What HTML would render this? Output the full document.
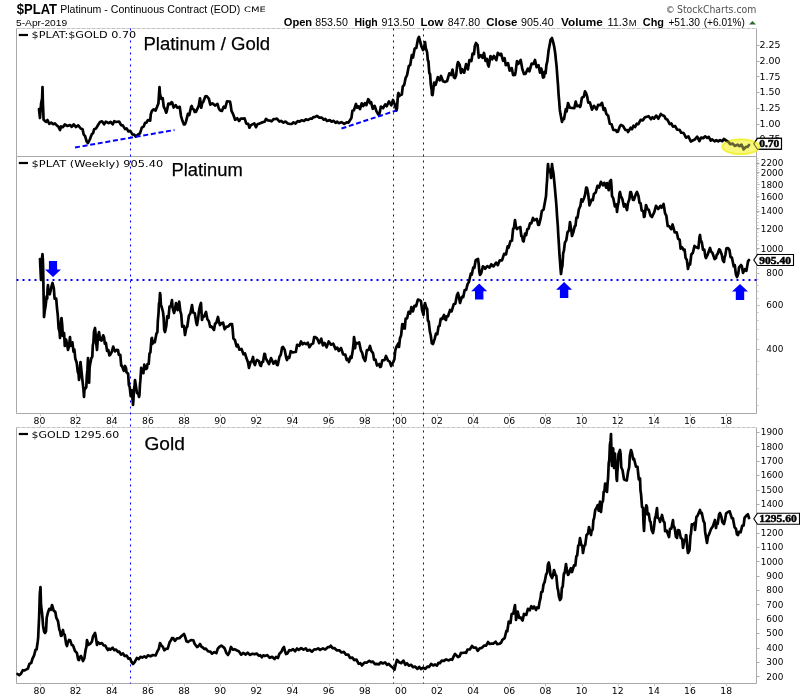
<!DOCTYPE html>
<html lang="en"><head><meta charset="utf-8"><title>$PLAT Platinum - Continuous Contract (EOD)</title>
<style>html,body{margin:0;padding:0;background:#fff}svg{display:block;will-change:transform}text{white-space:pre}</style>
</head><body>
<svg width="800" height="700" viewBox="0 0 800 700">
<rect width="800" height="700" fill="#fff"/>
<text x="16.8" y="13.6" font-family='"Liberation Sans", sans-serif' font-size="14" font-weight="bold" fill="#000" text-anchor="start" textLength="40.2" lengthAdjust="spacingAndGlyphs" >$PLAT</text>
<text x="60.2" y="13" font-family='"Liberation Sans", sans-serif' font-size="11.0" font-weight="normal" fill="#000" text-anchor="start" textLength="180" lengthAdjust="spacingAndGlyphs" >Platinum - Continuous Contract (EOD)</text>
<text x="244" y="12" font-family='"DejaVu Sans", "Liberation Sans", sans-serif' font-size="7.5" font-weight="normal" fill="#000" text-anchor="start" textLength="21.8" lengthAdjust="spacingAndGlyphs" >CME</text>
<text x="16" y="25.7" font-family='"Liberation Sans", sans-serif' font-size="9.6" font-weight="normal" fill="#000" text-anchor="start" textLength="51.2" lengthAdjust="spacingAndGlyphs" >5-Apr-2019</text>
<text x="665.8" y="13.1" font-family='"DejaVu Sans", "Liberation Sans", sans-serif' font-size="9" font-weight="normal" fill="#444" text-anchor="start" >©</text>
<text x="677" y="12.7" font-family='"DejaVu Sans", "Liberation Sans", sans-serif' font-size="10.5" font-weight="normal" fill="#505050" text-anchor="start" textLength="79.4" lengthAdjust="spacingAndGlyphs" >StockCharts.com</text>
<text x="283.75" y="25.7" font-family='"Liberation Sans", sans-serif' font-size="10.8" font-weight="bold" fill="#000" text-anchor="start" textLength="28.4" lengthAdjust="spacingAndGlyphs" >Open</text>
<text x="315.3" y="25.7" font-family='"Liberation Sans", sans-serif' font-size="10.3" font-weight="normal" fill="#000" text-anchor="start" textLength="32.5" lengthAdjust="spacingAndGlyphs" >853.50</text>
<text x="354.4" y="25.7" font-family='"Liberation Sans", sans-serif' font-size="10.8" font-weight="bold" fill="#000" text-anchor="start" textLength="23.4" lengthAdjust="spacingAndGlyphs" >High</text>
<text x="381.6" y="25.7" font-family='"Liberation Sans", sans-serif' font-size="10.3" font-weight="normal" fill="#000" text-anchor="start" textLength="32.8" lengthAdjust="spacingAndGlyphs" >913.50</text>
<text x="420.6" y="25.7" font-family='"Liberation Sans", sans-serif' font-size="10.8" font-weight="bold" fill="#000" text-anchor="start" textLength="22.8" lengthAdjust="spacingAndGlyphs" >Low</text>
<text x="447.8" y="25.7" font-family='"Liberation Sans", sans-serif' font-size="10.3" font-weight="normal" fill="#000" text-anchor="start" textLength="32.2" lengthAdjust="spacingAndGlyphs" >847.80</text>
<text x="486.25" y="25.7" font-family='"Liberation Sans", sans-serif' font-size="10.8" font-weight="bold" fill="#000" text-anchor="start" textLength="31.2" lengthAdjust="spacingAndGlyphs" >Close</text>
<text x="521" y="25.7" font-family='"Liberation Sans", sans-serif' font-size="10.3" font-weight="normal" fill="#000" text-anchor="start" textLength="32.8" lengthAdjust="spacingAndGlyphs" >905.40</text>
<text x="561" y="25.7" font-family='"Liberation Sans", sans-serif' font-size="10.8" font-weight="bold" fill="#000" text-anchor="start" textLength="41.8" lengthAdjust="spacingAndGlyphs" >Volume</text>
<text x="607.5" y="25.7" font-family='"Liberation Sans", sans-serif' font-size="10.3" font-weight="normal" fill="#000" text-anchor="start" textLength="20.5" lengthAdjust="spacingAndGlyphs" >11.3</text>
<text x="642.8" y="25.7" font-family='"Liberation Sans", sans-serif' font-size="10.8" font-weight="bold" fill="#000" text-anchor="start" textLength="21.2" lengthAdjust="spacingAndGlyphs" >Chg</text>
<text x="668.4" y="25.7" font-family='"Liberation Sans", sans-serif' font-size="10.3" font-weight="normal" fill="#000" text-anchor="start" textLength="31.6" lengthAdjust="spacingAndGlyphs" >+51.30</text>
<text x="703.75" y="25.7" font-family='"Liberation Sans", sans-serif' font-size="10.3" font-weight="normal" fill="#000" text-anchor="start" textLength="41.2" lengthAdjust="spacingAndGlyphs" >(+6.01%)</text>
<text x="628.8" y="25.7" font-family='"Liberation Sans", sans-serif' font-size="8.4" font-weight="normal" fill="#000" text-anchor="start" textLength="7.8" lengthAdjust="spacingAndGlyphs" >M</text>
<polygon points="749,24.5 756,24.5 752.5,21" fill="#2b6b2b"/>
<path d="M16.5,28.5 V156.5 H756.5 V28.5" fill="none" stroke="#a9a9a9" stroke-width="1"/>
<path d="M16.5,28.5 H756.5" fill="none" stroke="#a9a9a9" stroke-width="1" stroke-dasharray="4 1" stroke-opacity="0.7"/>
<path d="M16.5,156.5 V413.5 H756.5 V156.5" fill="none" stroke="#a9a9a9" stroke-width="1"/>
<path d="M16.5,427.5 V683.5 H756.5 V427.5" fill="none" stroke="#a9a9a9" stroke-width="1"/>
<path d="M16.5,427.5 H756.5" fill="none" stroke="#a9a9a9" stroke-width="1" stroke-dasharray="4 1" stroke-opacity="0.7"/>
<text x="39.5" y="423.5" font-family='"DejaVu Sans", "Liberation Sans", sans-serif' font-size="8.6" font-weight="normal" fill="#000" text-anchor="middle" textLength="11.8" lengthAdjust="spacingAndGlyphs" >80</text>
<path d="M40.5,413.5 v2.5" stroke="#c4c4c4" stroke-width="1"/>
<text x="75.6" y="423.5" font-family='"DejaVu Sans", "Liberation Sans", sans-serif' font-size="8.6" font-weight="normal" fill="#000" text-anchor="middle" textLength="11.8" lengthAdjust="spacingAndGlyphs" >82</text>
<path d="M76.5,413.5 v2.5" stroke="#c4c4c4" stroke-width="1"/>
<text x="111.8" y="423.5" font-family='"DejaVu Sans", "Liberation Sans", sans-serif' font-size="8.6" font-weight="normal" fill="#000" text-anchor="middle" textLength="11.8" lengthAdjust="spacingAndGlyphs" >84</text>
<path d="M112.5,413.5 v2.5" stroke="#c4c4c4" stroke-width="1"/>
<text x="147.9" y="423.5" font-family='"DejaVu Sans", "Liberation Sans", sans-serif' font-size="8.6" font-weight="normal" fill="#000" text-anchor="middle" textLength="11.8" lengthAdjust="spacingAndGlyphs" >86</text>
<path d="M148.5,413.5 v2.5" stroke="#c4c4c4" stroke-width="1"/>
<text x="184.1" y="423.5" font-family='"DejaVu Sans", "Liberation Sans", sans-serif' font-size="8.6" font-weight="normal" fill="#000" text-anchor="middle" textLength="11.8" lengthAdjust="spacingAndGlyphs" >88</text>
<path d="M184.5,413.5 v2.5" stroke="#c4c4c4" stroke-width="1"/>
<text x="220.2" y="423.5" font-family='"DejaVu Sans", "Liberation Sans", sans-serif' font-size="8.6" font-weight="normal" fill="#000" text-anchor="middle" textLength="11.8" lengthAdjust="spacingAndGlyphs" >90</text>
<path d="M220.5,413.5 v2.5" stroke="#c4c4c4" stroke-width="1"/>
<text x="256.3" y="423.5" font-family='"DejaVu Sans", "Liberation Sans", sans-serif' font-size="8.6" font-weight="normal" fill="#000" text-anchor="middle" textLength="11.8" lengthAdjust="spacingAndGlyphs" >92</text>
<path d="M256.5,413.5 v2.5" stroke="#c4c4c4" stroke-width="1"/>
<text x="292.5" y="423.5" font-family='"DejaVu Sans", "Liberation Sans", sans-serif' font-size="8.6" font-weight="normal" fill="#000" text-anchor="middle" textLength="11.8" lengthAdjust="spacingAndGlyphs" >94</text>
<path d="M292.5,413.5 v2.5" stroke="#c4c4c4" stroke-width="1"/>
<text x="328.6" y="423.5" font-family='"DejaVu Sans", "Liberation Sans", sans-serif' font-size="8.6" font-weight="normal" fill="#000" text-anchor="middle" textLength="11.8" lengthAdjust="spacingAndGlyphs" >96</text>
<path d="M329.5,413.5 v2.5" stroke="#c4c4c4" stroke-width="1"/>
<text x="364.8" y="423.5" font-family='"DejaVu Sans", "Liberation Sans", sans-serif' font-size="8.6" font-weight="normal" fill="#000" text-anchor="middle" textLength="11.8" lengthAdjust="spacingAndGlyphs" >98</text>
<path d="M365.5,413.5 v2.5" stroke="#c4c4c4" stroke-width="1"/>
<text x="400.9" y="423.5" font-family='"DejaVu Sans", "Liberation Sans", sans-serif' font-size="8.6" font-weight="normal" fill="#000" text-anchor="middle" textLength="11.8" lengthAdjust="spacingAndGlyphs" >00</text>
<path d="M401.5,413.5 v2.5" stroke="#c4c4c4" stroke-width="1"/>
<text x="437.0" y="423.5" font-family='"DejaVu Sans", "Liberation Sans", sans-serif' font-size="8.6" font-weight="normal" fill="#000" text-anchor="middle" textLength="11.8" lengthAdjust="spacingAndGlyphs" >02</text>
<path d="M437.5,413.5 v2.5" stroke="#c4c4c4" stroke-width="1"/>
<text x="473.2" y="423.5" font-family='"DejaVu Sans", "Liberation Sans", sans-serif' font-size="8.6" font-weight="normal" fill="#000" text-anchor="middle" textLength="11.8" lengthAdjust="spacingAndGlyphs" >04</text>
<path d="M473.5,413.5 v2.5" stroke="#c4c4c4" stroke-width="1"/>
<text x="509.3" y="423.5" font-family='"DejaVu Sans", "Liberation Sans", sans-serif' font-size="8.6" font-weight="normal" fill="#000" text-anchor="middle" textLength="11.8" lengthAdjust="spacingAndGlyphs" >06</text>
<path d="M509.5,413.5 v2.5" stroke="#c4c4c4" stroke-width="1"/>
<text x="545.5" y="423.5" font-family='"DejaVu Sans", "Liberation Sans", sans-serif' font-size="8.6" font-weight="normal" fill="#000" text-anchor="middle" textLength="11.8" lengthAdjust="spacingAndGlyphs" >08</text>
<path d="M545.5,413.5 v2.5" stroke="#c4c4c4" stroke-width="1"/>
<text x="581.6" y="423.5" font-family='"DejaVu Sans", "Liberation Sans", sans-serif' font-size="8.6" font-weight="normal" fill="#000" text-anchor="middle" textLength="11.8" lengthAdjust="spacingAndGlyphs" >10</text>
<path d="M582.5,413.5 v2.5" stroke="#c4c4c4" stroke-width="1"/>
<text x="617.7" y="423.5" font-family='"DejaVu Sans", "Liberation Sans", sans-serif' font-size="8.6" font-weight="normal" fill="#000" text-anchor="middle" textLength="11.8" lengthAdjust="spacingAndGlyphs" >12</text>
<path d="M618.5,413.5 v2.5" stroke="#c4c4c4" stroke-width="1"/>
<text x="653.9" y="423.5" font-family='"DejaVu Sans", "Liberation Sans", sans-serif' font-size="8.6" font-weight="normal" fill="#000" text-anchor="middle" textLength="11.8" lengthAdjust="spacingAndGlyphs" >14</text>
<path d="M654.5,413.5 v2.5" stroke="#c4c4c4" stroke-width="1"/>
<text x="690.0" y="423.5" font-family='"DejaVu Sans", "Liberation Sans", sans-serif' font-size="8.6" font-weight="normal" fill="#000" text-anchor="middle" textLength="11.8" lengthAdjust="spacingAndGlyphs" >16</text>
<path d="M690.5,413.5 v2.5" stroke="#c4c4c4" stroke-width="1"/>
<text x="726.2" y="423.5" font-family='"DejaVu Sans", "Liberation Sans", sans-serif' font-size="8.6" font-weight="normal" fill="#000" text-anchor="middle" textLength="11.8" lengthAdjust="spacingAndGlyphs" >18</text>
<path d="M726.5,413.5 v2.5" stroke="#c4c4c4" stroke-width="1"/>
<text x="39.5" y="693.5" font-family='"DejaVu Sans", "Liberation Sans", sans-serif' font-size="8.6" font-weight="normal" fill="#000" text-anchor="middle" textLength="11.8" lengthAdjust="spacingAndGlyphs" >80</text>
<path d="M40.5,683.5 v2.5" stroke="#c4c4c4" stroke-width="1"/>
<text x="75.6" y="693.5" font-family='"DejaVu Sans", "Liberation Sans", sans-serif' font-size="8.6" font-weight="normal" fill="#000" text-anchor="middle" textLength="11.8" lengthAdjust="spacingAndGlyphs" >82</text>
<path d="M76.5,683.5 v2.5" stroke="#c4c4c4" stroke-width="1"/>
<text x="111.8" y="693.5" font-family='"DejaVu Sans", "Liberation Sans", sans-serif' font-size="8.6" font-weight="normal" fill="#000" text-anchor="middle" textLength="11.8" lengthAdjust="spacingAndGlyphs" >84</text>
<path d="M112.5,683.5 v2.5" stroke="#c4c4c4" stroke-width="1"/>
<text x="147.9" y="693.5" font-family='"DejaVu Sans", "Liberation Sans", sans-serif' font-size="8.6" font-weight="normal" fill="#000" text-anchor="middle" textLength="11.8" lengthAdjust="spacingAndGlyphs" >86</text>
<path d="M148.5,683.5 v2.5" stroke="#c4c4c4" stroke-width="1"/>
<text x="184.1" y="693.5" font-family='"DejaVu Sans", "Liberation Sans", sans-serif' font-size="8.6" font-weight="normal" fill="#000" text-anchor="middle" textLength="11.8" lengthAdjust="spacingAndGlyphs" >88</text>
<path d="M184.5,683.5 v2.5" stroke="#c4c4c4" stroke-width="1"/>
<text x="220.2" y="693.5" font-family='"DejaVu Sans", "Liberation Sans", sans-serif' font-size="8.6" font-weight="normal" fill="#000" text-anchor="middle" textLength="11.8" lengthAdjust="spacingAndGlyphs" >90</text>
<path d="M220.5,683.5 v2.5" stroke="#c4c4c4" stroke-width="1"/>
<text x="256.3" y="693.5" font-family='"DejaVu Sans", "Liberation Sans", sans-serif' font-size="8.6" font-weight="normal" fill="#000" text-anchor="middle" textLength="11.8" lengthAdjust="spacingAndGlyphs" >92</text>
<path d="M256.5,683.5 v2.5" stroke="#c4c4c4" stroke-width="1"/>
<text x="292.5" y="693.5" font-family='"DejaVu Sans", "Liberation Sans", sans-serif' font-size="8.6" font-weight="normal" fill="#000" text-anchor="middle" textLength="11.8" lengthAdjust="spacingAndGlyphs" >94</text>
<path d="M292.5,683.5 v2.5" stroke="#c4c4c4" stroke-width="1"/>
<text x="328.6" y="693.5" font-family='"DejaVu Sans", "Liberation Sans", sans-serif' font-size="8.6" font-weight="normal" fill="#000" text-anchor="middle" textLength="11.8" lengthAdjust="spacingAndGlyphs" >96</text>
<path d="M329.5,683.5 v2.5" stroke="#c4c4c4" stroke-width="1"/>
<text x="364.8" y="693.5" font-family='"DejaVu Sans", "Liberation Sans", sans-serif' font-size="8.6" font-weight="normal" fill="#000" text-anchor="middle" textLength="11.8" lengthAdjust="spacingAndGlyphs" >98</text>
<path d="M365.5,683.5 v2.5" stroke="#c4c4c4" stroke-width="1"/>
<text x="400.9" y="693.5" font-family='"DejaVu Sans", "Liberation Sans", sans-serif' font-size="8.6" font-weight="normal" fill="#000" text-anchor="middle" textLength="11.8" lengthAdjust="spacingAndGlyphs" >00</text>
<path d="M401.5,683.5 v2.5" stroke="#c4c4c4" stroke-width="1"/>
<text x="437.0" y="693.5" font-family='"DejaVu Sans", "Liberation Sans", sans-serif' font-size="8.6" font-weight="normal" fill="#000" text-anchor="middle" textLength="11.8" lengthAdjust="spacingAndGlyphs" >02</text>
<path d="M437.5,683.5 v2.5" stroke="#c4c4c4" stroke-width="1"/>
<text x="473.2" y="693.5" font-family='"DejaVu Sans", "Liberation Sans", sans-serif' font-size="8.6" font-weight="normal" fill="#000" text-anchor="middle" textLength="11.8" lengthAdjust="spacingAndGlyphs" >04</text>
<path d="M473.5,683.5 v2.5" stroke="#c4c4c4" stroke-width="1"/>
<text x="509.3" y="693.5" font-family='"DejaVu Sans", "Liberation Sans", sans-serif' font-size="8.6" font-weight="normal" fill="#000" text-anchor="middle" textLength="11.8" lengthAdjust="spacingAndGlyphs" >06</text>
<path d="M509.5,683.5 v2.5" stroke="#c4c4c4" stroke-width="1"/>
<text x="545.5" y="693.5" font-family='"DejaVu Sans", "Liberation Sans", sans-serif' font-size="8.6" font-weight="normal" fill="#000" text-anchor="middle" textLength="11.8" lengthAdjust="spacingAndGlyphs" >08</text>
<path d="M545.5,683.5 v2.5" stroke="#c4c4c4" stroke-width="1"/>
<text x="581.6" y="693.5" font-family='"DejaVu Sans", "Liberation Sans", sans-serif' font-size="8.6" font-weight="normal" fill="#000" text-anchor="middle" textLength="11.8" lengthAdjust="spacingAndGlyphs" >10</text>
<path d="M582.5,683.5 v2.5" stroke="#c4c4c4" stroke-width="1"/>
<text x="617.7" y="693.5" font-family='"DejaVu Sans", "Liberation Sans", sans-serif' font-size="8.6" font-weight="normal" fill="#000" text-anchor="middle" textLength="11.8" lengthAdjust="spacingAndGlyphs" >12</text>
<path d="M618.5,683.5 v2.5" stroke="#c4c4c4" stroke-width="1"/>
<text x="653.9" y="693.5" font-family='"DejaVu Sans", "Liberation Sans", sans-serif' font-size="8.6" font-weight="normal" fill="#000" text-anchor="middle" textLength="11.8" lengthAdjust="spacingAndGlyphs" >14</text>
<path d="M654.5,683.5 v2.5" stroke="#c4c4c4" stroke-width="1"/>
<text x="690.0" y="693.5" font-family='"DejaVu Sans", "Liberation Sans", sans-serif' font-size="8.6" font-weight="normal" fill="#000" text-anchor="middle" textLength="11.8" lengthAdjust="spacingAndGlyphs" >16</text>
<path d="M690.5,683.5 v2.5" stroke="#c4c4c4" stroke-width="1"/>
<text x="726.2" y="693.5" font-family='"DejaVu Sans", "Liberation Sans", sans-serif' font-size="8.6" font-weight="normal" fill="#000" text-anchor="middle" textLength="11.8" lengthAdjust="spacingAndGlyphs" >18</text>
<path d="M726.5,683.5 v2.5" stroke="#c4c4c4" stroke-width="1"/>
<path d="M40.5,427.5 v-2.5" stroke="#c4c4c4" stroke-width="1"/>
<path d="M76.5,427.5 v-2.5" stroke="#c4c4c4" stroke-width="1"/>
<path d="M112.5,427.5 v-2.5" stroke="#c4c4c4" stroke-width="1"/>
<path d="M148.5,427.5 v-2.5" stroke="#c4c4c4" stroke-width="1"/>
<path d="M184.5,427.5 v-2.5" stroke="#c4c4c4" stroke-width="1"/>
<path d="M220.5,427.5 v-2.5" stroke="#c4c4c4" stroke-width="1"/>
<path d="M256.5,427.5 v-2.5" stroke="#c4c4c4" stroke-width="1"/>
<path d="M292.5,427.5 v-2.5" stroke="#c4c4c4" stroke-width="1"/>
<path d="M329.5,427.5 v-2.5" stroke="#c4c4c4" stroke-width="1"/>
<path d="M365.5,427.5 v-2.5" stroke="#c4c4c4" stroke-width="1"/>
<path d="M401.5,427.5 v-2.5" stroke="#c4c4c4" stroke-width="1"/>
<path d="M437.5,427.5 v-2.5" stroke="#c4c4c4" stroke-width="1"/>
<path d="M473.5,427.5 v-2.5" stroke="#c4c4c4" stroke-width="1"/>
<path d="M509.5,427.5 v-2.5" stroke="#c4c4c4" stroke-width="1"/>
<path d="M545.5,427.5 v-2.5" stroke="#c4c4c4" stroke-width="1"/>
<path d="M582.5,427.5 v-2.5" stroke="#c4c4c4" stroke-width="1"/>
<path d="M618.5,427.5 v-2.5" stroke="#c4c4c4" stroke-width="1"/>
<path d="M654.5,427.5 v-2.5" stroke="#c4c4c4" stroke-width="1"/>
<path d="M690.5,427.5 v-2.5" stroke="#c4c4c4" stroke-width="1"/>
<path d="M726.5,427.5 v-2.5" stroke="#c4c4c4" stroke-width="1"/>
<text x="759.4" y="48.2" font-family='"DejaVu Sans", "Liberation Sans", sans-serif' font-size="8.6" font-weight="normal" fill="#000" text-anchor="start" textLength="21" lengthAdjust="spacingAndGlyphs" >2.25</text>
<path d="M756.5,45.5 h3" stroke="#a9a9a9" stroke-width="1"/>
<text x="759.4" y="63.9" font-family='"DejaVu Sans", "Liberation Sans", sans-serif' font-size="8.6" font-weight="normal" fill="#000" text-anchor="start" textLength="21" lengthAdjust="spacingAndGlyphs" >2.00</text>
<path d="M756.5,61.5 h3" stroke="#a9a9a9" stroke-width="1"/>
<text x="759.4" y="79.6" font-family='"DejaVu Sans", "Liberation Sans", sans-serif' font-size="8.6" font-weight="normal" fill="#000" text-anchor="start" textLength="21" lengthAdjust="spacingAndGlyphs" >1.75</text>
<path d="M756.5,76.5 h3" stroke="#a9a9a9" stroke-width="1"/>
<text x="759.4" y="95.3" font-family='"DejaVu Sans", "Liberation Sans", sans-serif' font-size="8.6" font-weight="normal" fill="#000" text-anchor="start" textLength="21" lengthAdjust="spacingAndGlyphs" >1.50</text>
<path d="M756.5,92.5 h3" stroke="#a9a9a9" stroke-width="1"/>
<text x="759.4" y="111.0" font-family='"DejaVu Sans", "Liberation Sans", sans-serif' font-size="8.6" font-weight="normal" fill="#000" text-anchor="start" textLength="21" lengthAdjust="spacingAndGlyphs" >1.25</text>
<path d="M756.5,108.5 h3" stroke="#a9a9a9" stroke-width="1"/>
<text x="759.4" y="126.7" font-family='"DejaVu Sans", "Liberation Sans", sans-serif' font-size="8.6" font-weight="normal" fill="#000" text-anchor="start" textLength="21" lengthAdjust="spacingAndGlyphs" >1.00</text>
<path d="M756.5,124.5 h3" stroke="#a9a9a9" stroke-width="1"/>
<text x="759.4" y="142.4" font-family='"DejaVu Sans", "Liberation Sans", sans-serif' font-size="8.6" font-weight="normal" fill="#000" text-anchor="start" textLength="21" lengthAdjust="spacingAndGlyphs" >0.75</text>
<path d="M756.5,139.5 h3" stroke="#a9a9a9" stroke-width="1"/>
<text x="783.3" y="166.2" font-family='"DejaVu Sans", "Liberation Sans", sans-serif' font-size="8.6" font-weight="normal" fill="#000" text-anchor="end" textLength="22.5" lengthAdjust="spacingAndGlyphs" >2200</text>
<path d="M756.5,163.5 h3" stroke="#a9a9a9" stroke-width="1"/>
<text x="783.3" y="175.6" font-family='"DejaVu Sans", "Liberation Sans", sans-serif' font-size="8.6" font-weight="normal" fill="#000" text-anchor="end" textLength="22.5" lengthAdjust="spacingAndGlyphs" >2000</text>
<path d="M756.5,172.5 h3" stroke="#a9a9a9" stroke-width="1"/>
<text x="783.3" y="187.6" font-family='"DejaVu Sans", "Liberation Sans", sans-serif' font-size="8.6" font-weight="normal" fill="#000" text-anchor="end" textLength="22.5" lengthAdjust="spacingAndGlyphs" >1800</text>
<path d="M756.5,184.5 h3" stroke="#a9a9a9" stroke-width="1"/>
<text x="783.3" y="199.6" font-family='"DejaVu Sans", "Liberation Sans", sans-serif' font-size="8.6" font-weight="normal" fill="#000" text-anchor="end" textLength="22.5" lengthAdjust="spacingAndGlyphs" >1600</text>
<path d="M756.5,196.5 h3" stroke="#a9a9a9" stroke-width="1"/>
<text x="783.3" y="214.2" font-family='"DejaVu Sans", "Liberation Sans", sans-serif' font-size="8.6" font-weight="normal" fill="#000" text-anchor="end" textLength="22.5" lengthAdjust="spacingAndGlyphs" >1400</text>
<path d="M756.5,211.5 h3" stroke="#a9a9a9" stroke-width="1"/>
<text x="783.3" y="231.6" font-family='"DejaVu Sans", "Liberation Sans", sans-serif' font-size="8.6" font-weight="normal" fill="#000" text-anchor="end" textLength="22.5" lengthAdjust="spacingAndGlyphs" >1200</text>
<path d="M756.5,228.5 h3" stroke="#a9a9a9" stroke-width="1"/>
<text x="783.3" y="251.6" font-family='"DejaVu Sans", "Liberation Sans", sans-serif' font-size="8.6" font-weight="normal" fill="#000" text-anchor="end" textLength="22.5" lengthAdjust="spacingAndGlyphs" >1000</text>
<path d="M756.5,248.5 h3" stroke="#a9a9a9" stroke-width="1"/>
<text x="783.3" y="276.0" font-family='"DejaVu Sans", "Liberation Sans", sans-serif' font-size="8.6" font-weight="normal" fill="#000" text-anchor="end" textLength="17" lengthAdjust="spacingAndGlyphs" >800</text>
<path d="M756.5,273.5 h3" stroke="#a9a9a9" stroke-width="1"/>
<text x="783.3" y="307.8" font-family='"DejaVu Sans", "Liberation Sans", sans-serif' font-size="8.6" font-weight="normal" fill="#000" text-anchor="end" textLength="17" lengthAdjust="spacingAndGlyphs" >600</text>
<path d="M756.5,305.5 h3" stroke="#a9a9a9" stroke-width="1"/>
<text x="783.3" y="352.0" font-family='"DejaVu Sans", "Liberation Sans", sans-serif' font-size="8.6" font-weight="normal" fill="#000" text-anchor="end" textLength="17" lengthAdjust="spacingAndGlyphs" >400</text>
<path d="M756.5,349.5 h3" stroke="#a9a9a9" stroke-width="1"/>
<path d="M756.5,405.5 h2" stroke="#c4c4c4" stroke-width="1"/>
<path d="M756.5,388.5 h2" stroke="#c4c4c4" stroke-width="1"/>
<path d="M756.5,374.5 h2" stroke="#c4c4c4" stroke-width="1"/>
<path d="M756.5,361.5 h2" stroke="#c4c4c4" stroke-width="1"/>
<path d="M756.5,349.5 h2" stroke="#c4c4c4" stroke-width="1"/>
<path d="M756.5,339.5 h2" stroke="#c4c4c4" stroke-width="1"/>
<path d="M756.5,329.5 h2" stroke="#c4c4c4" stroke-width="1"/>
<path d="M756.5,320.5 h2" stroke="#c4c4c4" stroke-width="1"/>
<path d="M756.5,312.5 h2" stroke="#c4c4c4" stroke-width="1"/>
<path d="M756.5,305.5 h2" stroke="#c4c4c4" stroke-width="1"/>
<path d="M756.5,298.5 h2" stroke="#c4c4c4" stroke-width="1"/>
<path d="M756.5,291.5 h2" stroke="#c4c4c4" stroke-width="1"/>
<path d="M756.5,285.5 h2" stroke="#c4c4c4" stroke-width="1"/>
<path d="M756.5,279.5 h2" stroke="#c4c4c4" stroke-width="1"/>
<path d="M756.5,273.5 h2" stroke="#c4c4c4" stroke-width="1"/>
<path d="M756.5,268.5 h2" stroke="#c4c4c4" stroke-width="1"/>
<path d="M756.5,263.5 h2" stroke="#c4c4c4" stroke-width="1"/>
<path d="M756.5,258.5 h2" stroke="#c4c4c4" stroke-width="1"/>
<path d="M756.5,253.5 h2" stroke="#c4c4c4" stroke-width="1"/>
<path d="M756.5,249.5 h2" stroke="#c4c4c4" stroke-width="1"/>
<path d="M756.5,244.5 h2" stroke="#c4c4c4" stroke-width="1"/>
<path d="M756.5,240.5 h2" stroke="#c4c4c4" stroke-width="1"/>
<path d="M756.5,236.5 h2" stroke="#c4c4c4" stroke-width="1"/>
<path d="M756.5,232.5 h2" stroke="#c4c4c4" stroke-width="1"/>
<path d="M756.5,229.5 h2" stroke="#c4c4c4" stroke-width="1"/>
<path d="M756.5,225.5 h2" stroke="#c4c4c4" stroke-width="1"/>
<path d="M756.5,222.5 h2" stroke="#c4c4c4" stroke-width="1"/>
<path d="M756.5,218.5 h2" stroke="#c4c4c4" stroke-width="1"/>
<path d="M756.5,215.5 h2" stroke="#c4c4c4" stroke-width="1"/>
<path d="M756.5,212.5 h2" stroke="#c4c4c4" stroke-width="1"/>
<path d="M756.5,209.5 h2" stroke="#c4c4c4" stroke-width="1"/>
<path d="M756.5,206.5 h2" stroke="#c4c4c4" stroke-width="1"/>
<path d="M756.5,203.5 h2" stroke="#c4c4c4" stroke-width="1"/>
<path d="M756.5,200.5 h2" stroke="#c4c4c4" stroke-width="1"/>
<path d="M756.5,197.5 h2" stroke="#c4c4c4" stroke-width="1"/>
<path d="M756.5,194.5 h2" stroke="#c4c4c4" stroke-width="1"/>
<path d="M756.5,192.5 h2" stroke="#c4c4c4" stroke-width="1"/>
<path d="M756.5,189.5 h2" stroke="#c4c4c4" stroke-width="1"/>
<path d="M756.5,187.5 h2" stroke="#c4c4c4" stroke-width="1"/>
<path d="M756.5,184.5 h2" stroke="#c4c4c4" stroke-width="1"/>
<path d="M756.5,182.5 h2" stroke="#c4c4c4" stroke-width="1"/>
<path d="M756.5,179.5 h2" stroke="#c4c4c4" stroke-width="1"/>
<path d="M756.5,177.5 h2" stroke="#c4c4c4" stroke-width="1"/>
<path d="M756.5,175.5 h2" stroke="#c4c4c4" stroke-width="1"/>
<path d="M756.5,173.5 h2" stroke="#c4c4c4" stroke-width="1"/>
<path d="M756.5,170.5 h2" stroke="#c4c4c4" stroke-width="1"/>
<path d="M756.5,168.5 h2" stroke="#c4c4c4" stroke-width="1"/>
<path d="M756.5,166.5 h2" stroke="#c4c4c4" stroke-width="1"/>
<path d="M756.5,164.5 h2" stroke="#c4c4c4" stroke-width="1"/>
<path d="M756.5,162.5 h2" stroke="#c4c4c4" stroke-width="1"/>
<path d="M756.5,160.5 h2" stroke="#c4c4c4" stroke-width="1"/>
<path d="M756.5,158.5 h2" stroke="#c4c4c4" stroke-width="1"/>
<text x="783.3" y="679.5" font-family='"DejaVu Sans", "Liberation Sans", sans-serif' font-size="8.6" font-weight="normal" fill="#000" text-anchor="end" textLength="17" lengthAdjust="spacingAndGlyphs" >200</text>
<path d="M756.5,676.5 h3" stroke="#a9a9a9" stroke-width="1"/>
<text x="783.3" y="665.1" font-family='"DejaVu Sans", "Liberation Sans", sans-serif' font-size="8.6" font-weight="normal" fill="#000" text-anchor="end" textLength="17" lengthAdjust="spacingAndGlyphs" >300</text>
<path d="M756.5,662.5 h3" stroke="#a9a9a9" stroke-width="1"/>
<text x="783.3" y="650.7" font-family='"DejaVu Sans", "Liberation Sans", sans-serif' font-size="8.6" font-weight="normal" fill="#000" text-anchor="end" textLength="17" lengthAdjust="spacingAndGlyphs" >400</text>
<path d="M756.5,648.5 h3" stroke="#a9a9a9" stroke-width="1"/>
<text x="783.3" y="636.4" font-family='"DejaVu Sans", "Liberation Sans", sans-serif' font-size="8.6" font-weight="normal" fill="#000" text-anchor="end" textLength="17" lengthAdjust="spacingAndGlyphs" >500</text>
<path d="M756.5,633.5 h3" stroke="#a9a9a9" stroke-width="1"/>
<text x="783.3" y="622.0" font-family='"DejaVu Sans", "Liberation Sans", sans-serif' font-size="8.6" font-weight="normal" fill="#000" text-anchor="end" textLength="17" lengthAdjust="spacingAndGlyphs" >600</text>
<path d="M756.5,619.5 h3" stroke="#a9a9a9" stroke-width="1"/>
<text x="783.3" y="607.7" font-family='"DejaVu Sans", "Liberation Sans", sans-serif' font-size="8.6" font-weight="normal" fill="#000" text-anchor="end" textLength="17" lengthAdjust="spacingAndGlyphs" >700</text>
<path d="M756.5,604.5 h3" stroke="#a9a9a9" stroke-width="1"/>
<text x="783.3" y="593.3" font-family='"DejaVu Sans", "Liberation Sans", sans-serif' font-size="8.6" font-weight="normal" fill="#000" text-anchor="end" textLength="17" lengthAdjust="spacingAndGlyphs" >800</text>
<path d="M756.5,590.5 h3" stroke="#a9a9a9" stroke-width="1"/>
<text x="783.3" y="578.9" font-family='"DejaVu Sans", "Liberation Sans", sans-serif' font-size="8.6" font-weight="normal" fill="#000" text-anchor="end" textLength="17" lengthAdjust="spacingAndGlyphs" >900</text>
<path d="M756.5,576.5 h3" stroke="#a9a9a9" stroke-width="1"/>
<text x="783.3" y="564.6" font-family='"DejaVu Sans", "Liberation Sans", sans-serif' font-size="8.6" font-weight="normal" fill="#000" text-anchor="end" textLength="22.5" lengthAdjust="spacingAndGlyphs" >1000</text>
<path d="M756.5,561.5 h3" stroke="#a9a9a9" stroke-width="1"/>
<text x="783.3" y="550.2" font-family='"DejaVu Sans", "Liberation Sans", sans-serif' font-size="8.6" font-weight="normal" fill="#000" text-anchor="end" textLength="22.5" lengthAdjust="spacingAndGlyphs" >1100</text>
<path d="M756.5,547.5 h3" stroke="#a9a9a9" stroke-width="1"/>
<text x="783.3" y="535.9" font-family='"DejaVu Sans", "Liberation Sans", sans-serif' font-size="8.6" font-weight="normal" fill="#000" text-anchor="end" textLength="22.5" lengthAdjust="spacingAndGlyphs" >1200</text>
<path d="M756.5,533.5 h3" stroke="#a9a9a9" stroke-width="1"/>
<path d="M756.5,518.5 h3" stroke="#a9a9a9" stroke-width="1"/>
<text x="783.3" y="507.1" font-family='"DejaVu Sans", "Liberation Sans", sans-serif' font-size="8.6" font-weight="normal" fill="#000" text-anchor="end" textLength="22.5" lengthAdjust="spacingAndGlyphs" >1400</text>
<path d="M756.5,504.5 h3" stroke="#a9a9a9" stroke-width="1"/>
<text x="783.3" y="492.8" font-family='"DejaVu Sans", "Liberation Sans", sans-serif' font-size="8.6" font-weight="normal" fill="#000" text-anchor="end" textLength="22.5" lengthAdjust="spacingAndGlyphs" >1500</text>
<path d="M756.5,490.5 h3" stroke="#a9a9a9" stroke-width="1"/>
<text x="783.3" y="478.4" font-family='"DejaVu Sans", "Liberation Sans", sans-serif' font-size="8.6" font-weight="normal" fill="#000" text-anchor="end" textLength="22.5" lengthAdjust="spacingAndGlyphs" >1600</text>
<path d="M756.5,475.5 h3" stroke="#a9a9a9" stroke-width="1"/>
<text x="783.3" y="464.1" font-family='"DejaVu Sans", "Liberation Sans", sans-serif' font-size="8.6" font-weight="normal" fill="#000" text-anchor="end" textLength="22.5" lengthAdjust="spacingAndGlyphs" >1700</text>
<path d="M756.5,461.5 h3" stroke="#a9a9a9" stroke-width="1"/>
<text x="783.3" y="449.7" font-family='"DejaVu Sans", "Liberation Sans", sans-serif' font-size="8.6" font-weight="normal" fill="#000" text-anchor="end" textLength="22.5" lengthAdjust="spacingAndGlyphs" >1800</text>
<path d="M756.5,446.5 h3" stroke="#a9a9a9" stroke-width="1"/>
<text x="783.3" y="435.3" font-family='"DejaVu Sans", "Liberation Sans", sans-serif' font-size="8.6" font-weight="normal" fill="#000" text-anchor="end" textLength="22.5" lengthAdjust="spacingAndGlyphs" >1900</text>
<path d="M756.5,432.5 h3" stroke="#a9a9a9" stroke-width="1"/>
<path d="M130.5,28.5 V683.5" stroke="#0000ff" stroke-width="1" stroke-dasharray="2 4" fill="none"/>
<path d="M393.5,28.5 V683.5" stroke="#0000ff" stroke-width="1" stroke-dasharray="2 4" fill="none"/>
<path d="M423.5,28.5 V683.5" stroke="#0000ff" stroke-width="1" stroke-dasharray="2 4" fill="none"/>
<path d="M16.5,280 H756.5" stroke="#0000ff" stroke-width="2" stroke-dasharray="2 4" fill="none"/>
<path d="M757.5,138.3 H781.5 V149.3 H757.5 L753.8,143.8 Z" fill="#fff" stroke="#000" stroke-width="1.1" stroke-linejoin="miter"/>
<text x="759.2" y="147.4" font-family='"Liberation Serif", serif' font-size="10.8" font-weight="bold" fill="#000" text-anchor="start" textLength="20.2" lengthAdjust="spacingAndGlyphs" stroke="#000" stroke-width="0.45">0.70</text>
<path d="M757.5,254.5 H793.5 V265.5 H757.5 L753.8,260 Z" fill="#fff" stroke="#000" stroke-width="1.1" stroke-linejoin="miter"/>
<text x="759.2" y="263.6" font-family='"Liberation Serif", serif' font-size="10.8" font-weight="bold" fill="#000" text-anchor="start" textLength="31.8" lengthAdjust="spacingAndGlyphs" stroke="#000" stroke-width="0.45">905.40</text>
<path d="M757.5,513.3 H799.5 V524.3 H757.5 L753.8,518.8 Z" fill="#fff" stroke="#000" stroke-width="1.1" stroke-linejoin="miter"/>
<text x="759.2" y="522.4" font-family='"Liberation Serif", serif' font-size="10.8" font-weight="bold" fill="#000" text-anchor="start" textLength="37.6" lengthAdjust="spacingAndGlyphs" stroke="#000" stroke-width="0.45">1295.60</text>
<ellipse cx="740.8" cy="146.8" rx="18.4" ry="7.4" fill="#f7f77c" stroke="#f1f13a" stroke-width="1.8"/>
<path d="M39,109 L40,118 L40.5,110.9 L41.1,103.3 L42.1,98.5 L42.5,87 L42.7,94.2 L42.9,102.5 L43.2,110 L43.6,119.8 L46.1,121.9 L47.5,120 L49.3,123.8 L51.2,122.7 L53.2,124.2 L54.9,123.4 L57,125.6 L58.4,126.6 L60,130 L61.1,126.5 L63,127.1 L64.8,124.5 L67.4,126 L70,125 L71.7,126.8 L73.7,124.4 L76,127 L78.2,125.4 L80.7,128.5 L82.6,129.3 L83.7,134.5 L85.1,136.2 L86.7,141.5 L88,143 L89.8,139.5 L91.7,134.4 L93.1,133.1 L94.2,129.2 L96.1,128.4 L98.2,124.8 L100,122 L102,121.3 L104.1,124.3 L105.9,121.6 L108.6,123.2 L110.6,122 L112.8,124.3 L114.2,121.2 L116,122 L119.1,121.5 L121.1,125.1 L122.8,125.4 L125.1,129.1 L126.6,128.5 L128.5,131.5 L130.3,130.9 L132.4,134.4 L134.2,134.7 L135.8,136.6 L138.1,134.5 L140,133.4 L141.8,127.7 L143.8,126.3 L145.1,122.8 L146.3,122.7 L148,120 L150.2,120.6 L150.8,114.1 L151.9,111 L153.7,109.3 L155.6,110.6 L157.2,106.5 L158.4,103.6 L158.9,95.9 L159.5,87.2 L160,94.1 L161.3,98.8 L162.7,98.1 L163.7,106.7 L165.2,109.7 L166.2,112.7 L166.7,111.4 L168.4,103.5 L170.3,104.1 L171.5,102.2 L172.2,102.7 L173.7,107.5 L175.7,105.1 L177.4,107.8 L179.7,106.8 L181,116 L182.3,120.5 L183.9,124.4 L185,124.3 L186,121.6 L187.9,113.9 L189.3,115 L191.1,106.8 L191.7,106 L192.5,108.7 L194,109.7 L194.7,112 L195.9,112 L197.4,108.7 L198.8,105.6 L200,98.3 L201.3,107.7 L202.2,103.1 L203.3,101.8 L205.4,96.3 L206.7,96.2 L208.8,98.6 L210.3,104.6 L212.4,103.3 L215,105.6 L217.5,103.9 L218.8,108.5 L220.2,110.5 L221.9,110.9 L223.7,106.7 L225.2,107.8 L227,101.4 L230,101.5 L230.7,105.3 L231.5,110.9 L233.1,114.1 L235.1,119.8 L237.2,118.3 L239.1,121 L240.8,118.5 L243.5,118.7 L244.6,118.4 L246.3,123.6 L248.2,123.9 L249.5,127.7 L250.7,125.3 L252.8,124.1 L254.3,123.4 L256,127.2 L257.4,124.2 L259.5,123.6 L262.1,122.4 L264.5,121.8 L266,119 L268,120.3 L270.2,120.7 L271.6,121.3 L273.5,119.2 L276,119 L276.9,118.6 L279.5,121.6 L281.1,120.9 L283.4,122.6 L285.5,121.5 L287.8,123.5 L290,124 L291.6,124 L293.5,122.4 L295.5,123.5 L297.7,121.1 L299.6,121.6 L301.5,120.3 L304,121 L305.9,119.4 L308.1,120 L310.3,118.5 L311.8,118.8 L313.3,117.2 L314.7,117.1 L316.9,115.9 L319.3,117.7 L321.8,117.6 L323.8,119.7 L325.3,118.8 L327,121 L329.7,120.1 L331.6,121.6 L333.7,120.9 L335.6,122.9 L337.2,121.6 L338.7,123.2 L341.4,122.2 L344.2,123.8 L346.7,122.3 L348.3,122.7 L349.8,120.4 L351.4,118.1 L352.4,110.8 L353.9,110.2 L356,104 L357,107.7 L358.6,106.4 L360,109.1 L361.7,103.3 L363.2,106.1 L364.9,103.1 L366.4,105.1 L368.2,99.2 L369,100 L370,103.1 L371.1,102.2 L372.8,108.8 L374.6,105.8 L376.6,111.6 L378.7,115 L379.3,114.4 L380.9,106.5 L383.1,108.2 L385.2,104.5 L386.7,106.2 L389,101.4 L391.3,105.3 L393,100 L394.7,104.2 L396.5,110.5 L397,108.4 L398,94.4 L398.5,93 L399.1,96.2 L400.4,95 L401.8,94.5 L402.8,86.5 L404.2,84.9 L405.6,78.1 L407.1,75 L408.8,66 L410.2,65.2 L411.8,55.1 L413,57.6 L414.7,48.5 L416.3,48 L418.1,38.6 L419,37 L420.2,41.7 L421.4,46.3 L423,50 L423.8,49.1 L425,42 L425.8,48.1 L427.1,52.2 L427.8,60.2 L428.4,61.1 L429.3,73 L430.1,74.3 L430.8,84.6 L431.6,89.6 L432,95 L432.6,95.1 L434.1,82.5 L435.6,84.8 L437.8,77.1 L439.7,80.3 L441,76 L443,81.3 L445,82 L447.1,81 L449.3,73.4 L451,75 L452.5,69.6 L453.9,77.3 L455,78 L456.1,75.4 L457.2,65.4 L458,62 L459.7,65 L461,73 L461.9,69 L464.2,72.7 L466.1,64.1 L467.9,69.4 L469.4,60.1 L471.4,61 L472.6,53.5 L474,54 L474.8,46.3 L476,43 L477.6,45 L478.8,57.6 L480.7,55.1 L482.5,57.8 L484,53 L485.5,61 L487,58.9 L488,65 L488.7,66.5 L490.5,56 L492.3,59.3 L493.9,55.9 L496.3,60.2 L497.8,52.9 L500,55 L501.1,53.7 L503.1,60.8 L504.6,58.1 L505.8,65.2 L508,63.1 L509.7,70.6 L511.7,68.1 L513.1,75.1 L515,75 L515.7,71.2 L517,61 L518.4,63.8 L520.7,60 L522.4,69.4 L524,74 L525.4,74 L527.9,68.6 L529.4,71.4 L531.6,63.6 L533.5,64 L535,60 L536.6,67.1 L538.5,65.3 L540,72.7 L541.3,68.5 L543,77.6 L544,77 L544.5,71.9 L545.6,73.3 L546.4,65.1 L547.4,60.9 L548.5,51.1 L549.6,45.3 L550.6,39.8 L552,38 L553.1,41.9 L554.1,46.2 L555.2,53 L555.8,59.1 L556.6,66.3 L557.3,76.2 L558,84.9 L558.6,94.8 L559.2,101.5 L559.8,109.7 L560.5,114.1 L562,122 L562.9,118.8 L564,119.1 L565.8,109.2 L566.7,111.4 L568,103 L569.8,107.7 L572,108 L574.3,108.2 L575.7,101.5 L577,106.1 L579.1,105.7 L580,107 L580.6,105.8 L581.9,97.7 L583.8,96.7 L585,91.4 L586,93 L587.2,96.6 L588.2,102.6 L589.9,102.4 L592,109.7 L593.9,105.8 L596.6,109.4 L598.1,104.9 L600.4,105.1 L602,102.8 L603.6,109.9 L604.9,108.3 L606.4,114.1 L608.2,115.7 L609.8,123.8 L611.5,124.2 L613.3,129.9 L615.8,130.1 L617,132 L617.9,131.8 L619.9,126.1 L621,125 L623,126 L625.3,129.9 L627.2,130.2 L628,132 L630.7,127.7 L632,129.2 L633.5,125.7 L635,127 L636.8,123.7 L638.4,124.2 L640.6,119.9 L642.9,120.4 L644.7,117.5 L646,117 L648.5,116.2 L651,119.2 L652.4,117.3 L654.1,118.6 L656.2,115.6 L658.4,118.7 L660.8,114 L662,115 L664.2,115.9 L665.7,118.8 L667.5,119.8 L669.7,124 L671.3,123.4 L673,126.6 L675.2,126.1 L677.1,129.7 L679.5,129.8 L681.2,132.7 L683.6,133 L686,137.7 L688.4,136.4 L690.8,141.5 L693.1,140.2 L694.9,139.4 L697.2,136.7 L699.4,141.2 L701.1,137.7 L703.2,138.1 L705.2,136.4 L707.2,137.8 L708.7,136.8 L710.7,140.5 L712.3,139.5 L714.6,141.3 L716.3,140.2 L718.2,141.4 L720.1,140.1 L722.3,141.2 L723.8,139 L726.1,140.5 L728.4,141.9 L730.2,144.2 L732.5,143.6 L735,145.9 L737.5,144.7 L739.5,146.1 L741.5,144.6 L743.6,149.3 L745.9,146.9 L747.5,147 L749,145" fill="none" stroke="#000" stroke-width="2.7" stroke-linejoin="round" stroke-linecap="round"/>
<path d="M40,259 L40.4,267.4 L41,280 L41.2,273.1 L41.5,263.1 L42.5,254 L42.9,260.3 L43.1,267.1 L43.3,277.4 L43.5,289.4 L43.7,300.7 L43.9,308.9 L44,317 L44.7,311.4 L45.7,305.3 L46.6,296.3 L47.2,298.8 L47.6,288.5 L48,285 L48.4,292.4 L48.9,293.1 L49.8,294.2 L51.4,286.9 L52.5,283 L53.8,288 L54.6,298.6 L56.2,298.7 L57.1,309.1 L57.8,315.3 L58.6,328.2 L59.6,331.9 L60,338 L60.3,336 L61.1,321 L61.5,318 L62.2,324.9 L62.9,336 L64.1,333 L64.8,346 L66.1,339.6 L67.3,345.8 L68,350 L69,346.3 L70,337 L70.7,345.9 L72.4,342.3 L73.5,351.7 L74.4,349.6 L75.3,358.6 L76.7,362.8 L77.8,372.2 L78.5,373.7 L79,380 L79.4,377.5 L80.1,365.9 L80.5,362 L81.5,371.4 L82.6,381.8 L83.4,388.6 L84,397 L84.4,390.4 L85.2,388.4 L85.9,387.9 L86.3,387.2 L86.8,376.1 L87.4,369.9 L88,358 L88.2,366.3 L88.7,370.7 L89.1,382.7 L89.6,367.8 L90,365 L91.3,358.3 L92.3,356.8 L92.8,345.2 L93.4,342.7 L94,331.5 L95,328 L95.5,332.9 L96.2,343 L97,350 L98,336.3 L99,332 L100.2,339.8 L101.5,340.5 L103.2,335.4 L104,337 L104.8,343.7 L105.9,342.9 L107.1,351 L108.3,349.9 L109.4,355.5 L110,355 L111.7,352 L113.2,346.6 L114.9,351.4 L116.7,349.9 L118,350 L118.8,354.9 L120.3,354.9 L121.2,365.6 L121.9,365.7 L123.8,370.9 L125.1,366 L126,368 L126.5,372.3 L128.1,373.6 L128.9,385.3 L129.7,387 L130.7,396.2 L131.5,390.3 L132.3,395.8 L133,405 L133.4,400.3 L134,389.2 L134.6,385.6 L135,380 L135.6,384 L136.9,392.8 L138.3,393.8 L139,397 L139.4,395.5 L140,384.3 L140.4,380.2 L141.2,367.9 L143.4,373.2 L144.3,364.7 L146.1,369 L147,368 L147.5,364.1 L148.7,364 L149.5,353.5 L150.4,352.4 L151.5,338.3 L152,338 L152.6,343.8 L153.5,341.3 L154.8,342.3 L156.5,333.3 L157.4,332.3 L157.8,321.3 L158.5,313.6 L159,303.5 L159.5,301.9 L160,293 L160.4,294.8 L160.9,305 L161.6,306.5 L163,312 L163.6,317.3 L164.2,329.7 L165,332 L166.2,326.5 L167.2,316.4 L168.5,317.7 L169.5,306.5 L170.9,306 L172,300 L172.5,307.2 L174,313 L174.8,310.3 L176,303 L177.7,310.1 L179.2,301.7 L180.4,311.6 L181.2,314.1 L182.2,326.6 L184,326.1 L185,335 L186.2,328.2 L187.3,326.5 L188.9,315.8 L190.4,313.4 L192,305 L193.1,312.5 L194.8,313.3 L196.3,322.9 L197,325 L198,319.3 L199.2,309.5 L200.2,305.3 L201,303 L201.7,315.7 L202,320 L202.9,316.5 L204,316.6 L206,312 L207.4,319.3 L208.9,321.3 L210.2,327 L211.4,326.3 L214,330 L215.1,323.6 L216.2,323.2 L218,317 L218.9,321.7 L220,325 L221.6,323.1 L223.1,322.7 L224.6,329.3 L226.3,326.9 L228.3,326.4 L230.4,324 L232,324 L232.6,328.6 L233.4,338.5 L234.9,339.9 L236.6,346.4 L237.7,344.6 L239.5,349.7 L241.5,348.9 L243.5,354.3 L245,353.4 L246.4,358.1 L248,362.2 L249,368 L250.7,361.7 L251.7,361.5 L253,357 L254,363.4 L255,365 L255.7,362.1 L257,360 L258.9,361.2 L260.3,365.5 L261,366 L261.9,362 L263.1,361.8 L264.3,353.9 L265,354 L265.7,358.2 L267.2,360.9 L269,364 L271,358.1 L273.5,363.6 L275.6,360.9 L277,365 L277.7,365.1 L279.5,356.8 L280.8,354.7 L282.1,347.5 L283,347 L284.6,349.6 L286.2,357.8 L287,360 L288,357.1 L289.3,357.8 L290.7,351.2 L292.7,352.4 L295,352 L295.8,351.9 L297.1,344.8 L299.3,345.9 L301,341.5 L302.6,344.3 L304.1,342.9 L306,344.1 L307.8,342.7 L309.4,347.2 L311.2,344.4 L313.1,343.4 L314.2,337.1 L315,337 L317,338.3 L319.2,343.1 L321.3,338.7 L322.9,345.4 L324.6,343 L326.6,347.3 L328.7,341.4 L331,344.7 L333.2,343.6 L335.6,349.1 L337.3,347.6 L338.8,350.9 L341,348 L343.1,354.3 L345.3,354.7 L346.7,360 L347.9,358.9 L349,362 L350.5,356.6 L351.5,358 L352.9,349.6 L353.7,341.8 L354,337 L354.4,339.1 L355,348.2 L355.8,342.7 L357.6,343.5 L359.2,342.5 L360.9,350.5 L362.2,352.8 L363.3,357.7 L365,361 L365.5,359.7 L366.8,350.4 L368.6,349.9 L370,346 L371.3,350.9 L373,353.1 L374.1,359.7 L375.5,359.5 L377,365.5 L379.2,364 L380,367 L380.9,366.7 L382.3,360.3 L384.5,360.1 L386,356 L388,360.6 L389.7,361.6 L391.2,366 L393.2,362.1 L394.4,359.3 L395.3,350.2 L396.5,346.7 L398.5,343.2 L399,347 L400,338.2 L401.1,335.5 L402.3,324 L403.2,324.2 L403.8,328.4 L404.8,328.5 L405.6,318.5 L407.1,318.3 L408.6,311.8 L410.2,313.5 L411.4,307.1 L412.9,311.4 L414.4,305.9 L416.1,306.1 L417.9,299.7 L419.5,300 L421,301.1 L422.1,310.1 L423.5,315 L423.8,311.6 L425,303 L426.1,307.2 L427.2,309 L427.9,320.6 L428.7,321.5 L429.9,331.8 L430.8,335.5 L431.8,343.4 L433,344 L434.6,339.1 L436,333.7 L437.3,334.2 L438.5,326.6 L439.6,325.7 L440.7,318.9 L441.9,319.2 L444,315 L444.7,319 L446,320 L446.6,316.3 L448,316.3 L450.1,310 L451.6,311.4 L453.7,304.3 L455.3,303.7 L456.9,295.4 L458,293 L459,297.3 L460,303 L461.9,296.9 L463.2,297.1 L464.7,290 L466.2,289.8 L467.5,284.4 L469,281.7 L470.8,273.7 L471.8,274.6 L473.2,267.7 L474.3,267.9 L475.7,260.3 L478,259 L478.7,263.9 L479.3,271.4 L480,275 L481.2,273.3 L482.9,266.3 L485.2,268.7 L487.3,266.1 L489.6,267.6 L491.2,264.3 L493.5,266.4 L496.1,262.6 L497.8,265.2 L499.8,260.3 L502,260.4 L504.1,253.9 L506,254.4 L507.6,246.4 L508.6,247.7 L510.4,241.3 L512,240.5 L513.1,228.8 L513.9,228.4 L515,220 L516,227.2 L517,229 L518.4,227.9 L520.3,227.1 L521.3,236 L522.1,236.4 L523,241 L523.6,241.5 L525.1,233.5 L526.2,235.1 L527.3,229.3 L528.6,228.6 L530,223.3 L531.3,223.4 L533,218 L534.2,220.4 L536.8,218.9 L538.2,224.9 L539,225 L540.6,218.7 L541.8,211 L543.6,209.5 L545,201.7 L546,196.3 L546.5,188 L547.1,179.9 L547.6,169.1 L548,164 L548.8,172 L549.5,171.7 L550.4,169.9 L551,178 L551.6,169.7 L552,164 L552.4,167.8 L553.4,172.8 L554.3,181.6 L555,189.4 L555.9,199.4 L556.5,207 L557.1,216.7 L557.8,225.8 L558.3,235.2 L558.9,244.3 L559.5,255.2 L559.9,260 L560.6,269.7 L561,274 L561.6,269.3 L562.4,265.6 L563.2,253.1 L563.9,250.8 L564.9,242.6 L566.3,240.1 L567.5,232.4 L569.1,230.2 L570,222 L571.2,229.1 L572,236 L573.4,232 L574.8,226.1 L575.5,225.9 L576.4,217.7 L577.5,217.7 L578.9,209.3 L580.4,206 L581.4,199.3 L582.6,201.6 L584.2,197.7 L585,195 L586.2,187.5 L587,188 L588.1,193.5 L589.5,205.4 L591.6,199.6 L592.8,200.2 L593.9,194 L595.7,192.5 L597.5,185.9 L599.1,187.5 L600.9,181.9 L602.9,185.3 L604.2,182.8 L606.3,187.7 L607,183 L608.7,190.2 L609.9,181.3 L611,180 L611.5,186.5 L612,196.1 L613.2,198.1 L614.9,206.4 L616.4,204.4 L617,212 L617.6,206.8 L618.7,201.6 L619.4,193.6 L620,192 L620.8,196 L622.4,199.2 L623.9,206.6 L625.1,204.1 L627,210 L628,203.1 L629.4,199 L630.3,192 L631,192 L633,200 L633.9,199.9 L635.9,194 L637,192 L638.5,196 L639.5,202.8 L640.6,203.3 L641.7,210.5 L643.3,211 L644,217 L644.6,216.5 L646,205 L647.5,209.3 L648.7,209.7 L650.6,215.9 L652,217 L654.2,212.3 L656,205.9 L658.2,209 L660.3,205.9 L661.6,207.7 L663.6,204 L665.1,213.5 L666.3,215.5 L667.7,226 L669,226 L671.2,229.1 L672.6,224.5 L674.7,232.3 L676.7,232.3 L678.1,238.6 L679.7,239.9 L680.6,248.6 L682,247.3 L683.6,250 L684.6,249.6 L685.6,257.9 L686.8,259.7 L688,269 L689.1,263.8 L690.1,264.5 L691.3,254.5 L692.9,252.8 L694.5,245.9 L695.7,247 L698,248 L698.4,248.1 L699.5,237 L700,235 L700.6,239.9 L701.9,242.6 L703,249.7 L704.3,249.6 L705.4,256.6 L706,258 L707.8,254.3 L710,248 L711.2,251.8 L712.4,252.8 L714.6,259.1 L716,258 L716.6,255.2 L717.7,253.8 L719.2,249.3 L720,250 L721.7,254.5 L722.9,260.4 L724,262 L724.5,257.8 L725.4,254.8 L726.4,248.4 L728,248 L729.4,249.8 L730.6,257.2 L731.9,257.5 L733.7,266.5 L734.8,265.1 L735.8,273.7 L737,277 L738.2,274 L739.1,267.3 L741,265 L741.8,266 L743,273 L744.9,269.2 L746.4,270.8 L748,261.4 L749,260" fill="none" stroke="#000" stroke-width="2.7" stroke-linejoin="round" stroke-linecap="round"/>
<path d="M17.5,674 L19.2,675.2 L21,673.7 L22.9,670.2 L24.3,670.5 L26.5,669.4 L27.9,668.5 L29.5,663.7 L31.2,663.1 L32.4,658.8 L34.1,655.3 L35.6,649.7 L36.6,649.5 L37.7,641.7 L38.2,637.3 L38.6,627.6 L39.1,617.5 L39.5,604.8 L39.8,594.3 L40.5,587 L40.8,597.6 L41,604.7 L41.9,611.9 L42.5,618 L43.1,625.9 L44.1,631.7 L45,633 L46,631.3 L46.7,617.7 L47.9,612.8 L49.3,608.8 L51,609.8 L52,605 L53.7,610.7 L55.3,611.9 L56.3,617.7 L58,621.2 L59.3,629.4 L60.1,631.6 L61,636 L61.6,635.6 L63,630 L63.6,633.8 L64.7,634.8 L66.2,644.2 L67,646 L67.9,642.3 L69,640 L70.2,640.4 L71.8,645.1 L73.1,645.6 L75,651 L76.9,652.9 L78.2,659.5 L79,660 L79.8,657 L81,656 L83,661 L84.4,658.1 L85.6,649.9 L86.4,646.9 L87,640 L88.4,644.9 L90.3,643.6 L91.9,641.7 L93,636.5 L95,633 L95.5,635 L97,645 L97.7,642.1 L100,643.8 L101.9,643.1 L103.7,645.5 L105.3,645.7 L107.2,649.1 L108,650 L108.9,648.6 L110.3,649.6 L112.6,647.7 L114.3,650.2 L116,649.5 L117.9,651.9 L119.3,651.7 L121,654.6 L123,653.4 L124.6,655.9 L126.7,655.6 L128.5,658.7 L130,658.3 L131.5,661.9 L133,664 L134.8,661.9 L136.8,658 L138.7,659.1 L140.5,656.8 L142.2,657.6 L144.3,656.3 L146.2,657.5 L147.9,655.4 L150.5,656.3 L153.1,655 L155.6,655.5 L157.1,651.9 L158.8,648.9 L160,643 L161.6,645.7 L162.8,646.7 L164.3,650.3 L165.8,648.9 L167.7,648.6 L169.6,642.3 L171.2,639.9 L172,638 L173.3,638.2 L174.9,640.8 L177,638.4 L179.4,638.2 L181.3,636.2 L184,634 L185.2,637.1 L186.5,641.3 L188,642 L191,640 L193.3,640.3 L194.6,643.7 L197,647 L198.1,646.5 L200,644 L201.7,647 L202.9,647.5 L204.4,649.1 L205.8,648.6 L208.2,651.5 L210.2,651.5 L212,653.6 L214.4,652.2 L216.4,653.1 L217.7,648.9 L219.3,646.9 L221.3,645.6 L223.1,646.8 L224.7,648.5 L226.3,652.9 L228,655 L229.4,652.3 L231,647 L233,649.7 L234.6,649.2 L237.1,650.5 L238.8,651.2 L241.2,654.7 L243.1,652.9 L245.7,654.5 L247.7,652.7 L250.1,654.9 L252.5,653.7 L254.7,654.3 L256.7,653.5 L258.7,655.7 L260.3,655.2 L261.8,657.3 L263.3,655.3 L264.9,655.9 L267.3,655.2 L269.7,657.8 L272.1,656.8 L274.5,659 L276,657 L278,657.9 L279.3,654 L281.4,651.8 L282.9,648.3 L284,647 L284.6,650 L286,654 L287.5,653.4 L289.3,650.2 L291.1,650.5 L293,649.1 L295.1,651.2 L297,648.5 L298.7,649.9 L301.2,648.1 L303.5,649.7 L305.8,648.3 L307.3,650.7 L309.7,649.9 L311.9,651.7 L314.2,649.4 L315.9,649.5 L318.2,648.4 L320.1,649.9 L322.9,648.4 L325.3,649.5 L327.8,647.2 L329.4,647.1 L330.8,645.7 L332.6,648.1 L334.4,648.1 L336.7,650.3 L339.3,650.3 L341.5,652.5 L343.9,651.9 L346,654.7 L348.2,654.5 L350,657.9 L352.5,657.7 L354.1,660.1 L356.4,659.5 L358.7,663.8 L360.4,663.2 L362,665.5 L364.3,662.7 L366.7,662.7 L369.2,660.8 L371.2,662.1 L372.7,661.5 L375,664.1 L376.8,663.9 L379,664.3 L380.7,662.3 L382.9,663.5 L385.1,662.4 L387.1,664.8 L388.7,663.8 L390.8,666.2 L392.9,667.8 L394.5,669.7 L395.8,663.9 L397,660 L399.2,662.3 L401.3,663.2 L403.4,660.6 L405.3,664.8 L407,663.3 L408.9,665.6 L411.2,664.8 L412.8,667.1 L415,666.6 L417.5,668.9 L419.2,666.9 L420.9,669 L423.2,667.6 L425.3,668.9 L427.3,666.7 L429,666.9 L431.1,663.9 L433.1,665.5 L435,664.5 L437,665.6 L438.4,662.9 L439.9,663.1 L441.8,660.5 L443.6,661 L446.2,659.4 L448.8,660.4 L450.6,659.3 L452.2,659.8 L454.1,655.4 L455,654 L458,657 L459.6,656.2 L461,652.9 L462.4,653 L464.6,652.5 L466.2,652.8 L467.5,649.5 L469.8,649.4 L472,646 L473.5,647.6 L476,647.6 L477.7,650.8 L479.7,648.3 L481.8,647.9 L484.2,645.5 L486.1,645.7 L488,642 L489.5,643.9 L491.4,643.7 L493.2,643.7 L495.6,641.7 L497.3,644.2 L499.5,643.7 L501.1,642.8 L502.4,639.8 L504.6,638.2 L506.4,630.9 L507.3,631.2 L508.7,621.7 L510.5,622.9 L511.6,614.1 L513.3,613.6 L515,605 L515.4,611 L515.8,615.3 L516,620 L517.7,611.6 L519.2,617.9 L521,617.7 L522,620 L522.6,620.5 L524,613.9 L526.3,614.9 L527.9,608.8 L529.7,610.3 L531.3,606.2 L532.9,608.4 L534.2,606.5 L536,610 L537.2,607.3 L538.6,608.1 L539.5,602.4 L540.5,598.3 L541.3,592 L542.5,591.6 L543.5,584.5 L544.6,582.2 L546.2,574.1 L547.1,573.1 L547.9,564.6 L548.8,562.5 L549.5,566 L550.5,575.1 L552,578 L552.9,575.7 L554,570 L555.5,575 L556.3,575.6 L557.5,588.2 L558.1,590 L558.9,596.3 L560,600 L561.1,598.3 L561.9,588 L562.7,586.6 L563.9,573.4 L564.6,573.3 L566,564 L566.5,568.1 L568,575 L569,573.5 L570,570 L570.8,568.2 L572,572 L574,565.4 L575.3,565.5 L576.3,556.4 L577.2,555.3 L578.2,545.8 L579.1,544.9 L580,538 L581.4,545.3 L582.3,545.7 L583,553 L584.3,545.6 L585.2,545.1 L586.5,535.2 L588,533.5 L589,527 L591,535 L591.6,531 L592.7,529.4 L593.4,520.2 L594.1,518.1 L595.3,509.7 L596.2,508.5 L597.7,505.1 L598.7,510.7 L600,501.7 L601,512 L601.9,503.3 L603,500.7 L603.7,491.7 L604.4,491.4 L605.1,483.5 L607,492 L607.6,483 L608.1,477.6 L608.7,463.5 L609.3,459.8 L609.9,444.6 L610.6,440.4 L611,434 L611.4,449 L611.6,451.4 L611.9,465.8 L612.3,458.6 L612.7,453 L613.2,448.3 L613.6,462.5 L614,467.9 L614.5,466.6 L615,453.5 L615.4,461.9 L615.9,463.3 L616.6,479 L617,481 L617.3,472.8 L617.8,466.5 L618.5,453.9 L620,450 L620.6,453.9 L621.3,467.5 L622.5,470 L624,479.3 L625,480 L626.8,480.5 L628.1,471.6 L629.2,467.2 L629.8,456.1 L631,450 L631.9,452.4 L633.1,459.3 L634.1,459 L636,466.7 L637.5,466.9 L638.8,479.3 L640,478.4 L640.5,490.5 L641.1,494.6 L642,506.9 L643,507.7 L643.5,523.2 L644,531 L644.2,528 L644.7,515.6 L645.2,512.5 L646.3,505.3 L647,507 L647.5,514.3 L648.8,513.7 L649.9,521.1 L650.6,521.9 L651.6,529.8 L653,533 L653.8,528.9 L655,518.1 L655.8,516 L657,508 L657.7,517.9 L659.1,518.7 L660,522 L662,515 L663.5,521.4 L664.5,522.4 L665.1,531.1 L666.7,530.7 L669,537 L670,528.8 L671.3,528.7 L673,520 L673.4,525.4 L674.7,528.1 L675.9,536.7 L677,538 L678,530 L679.3,530.5 L680.8,538 L682.2,538.8 L683,548 L684.3,540.3 L685.5,539.6 L686,535 L686.3,535.3 L687.3,548.3 L688,553 L689.5,550.3 L690.5,535.1 L690.9,534.4 L691.8,524.3 L693.6,524.1 L694.6,523 L695,530 L695.5,526.3 L696.4,516.8 L697.3,516.2 L700,510 L700.7,513.1 L701.8,512.9 L703.5,521.2 L704.5,523.2 L705.1,531.7 L706.2,538.2 L707,543 L708.1,535.9 L708.9,534.7 L711,529.1 L712.8,526.4 L715,520 L716,528 L716.6,524.1 L717.7,523.9 L719.1,514.3 L720,513 L721.3,516.4 L722.3,522.1 L724,524 L725.1,519.4 L726.1,513.4 L728,512 L729.7,511.3 L731.8,518.1 L732.9,518.3 L734.5,527.1 L736,528.9 L737,534.4 L738,535 L739,531.8 L740.6,532.3 L742.2,525.9 L743.6,525.5 L744.6,517.6 L747,515 L747.9,514.3 L749,518" fill="none" stroke="#000" stroke-width="2.7" stroke-linejoin="round" stroke-linecap="round"/>
<path d="M757.5,138.3 H781.5 V149.3 H757.5 L753.8,143.8 Z" fill="none" stroke="#000" stroke-width="1.1" stroke-linejoin="miter"/>
<ellipse cx="740.8" cy="146.8" rx="18.4" ry="7.4" fill="#f7f77c" stroke="#f1f13a" stroke-width="1.8" opacity="0.4"/>
<path d="M75,147.5 L174.5,130" stroke="#0000ff" stroke-width="2" stroke-dasharray="5 2.7" fill="none"/>
<path d="M341.5,128.5 L396.5,110.5" stroke="#0000ff" stroke-width="2" stroke-dasharray="5 2.7" fill="none"/>
<polygon points="53,277 61,269.4 57.1,269.4 57.1,261 48.9,261 48.9,269.4 45,269.4" fill="#0000ff"/>
<polygon points="479.2,283.6 487.2,291.20000000000005 483.4,291.20000000000005 483.4,299.6 475.0,299.6 475.0,291.20000000000005 471.2,291.20000000000005" fill="#0000ff"/>
<polygon points="564.1,282.1 572.1,289.70000000000005 568.3000000000001,289.70000000000005 568.3000000000001,298.1 559.9,298.1 559.9,289.70000000000005 556.1,289.70000000000005" fill="#0000ff"/>
<polygon points="740,284 748,291.6 744.2,291.6 744.2,300 735.8,300 735.8,291.6 732,291.6" fill="#0000ff"/>
<rect x="18.8" y="33.9" width="9.2" height="2.2" fill="#000"/>
<text x="31.6" y="38.3" font-family='"DejaVu Sans", "Liberation Sans", sans-serif' font-size="9" font-weight="normal" fill="#000" text-anchor="start" textLength="104.6" lengthAdjust="spacingAndGlyphs" >$PLAT:$GOLD 0.70</text>
<rect x="18.8" y="161.9" width="9.2" height="2.2" fill="#000"/>
<text x="31.6" y="166.9" font-family='"DejaVu Sans", "Liberation Sans", sans-serif' font-size="9" font-weight="normal" fill="#000" text-anchor="start" textLength="131.6" lengthAdjust="spacingAndGlyphs" >$PLAT (Weekly) 905.40</text>
<rect x="18.8" y="432.9" width="9.2" height="2.2" fill="#000"/>
<text x="31.6" y="437.7" font-family='"DejaVu Sans", "Liberation Sans", sans-serif' font-size="9" font-weight="normal" fill="#000" text-anchor="start" textLength="87.6" lengthAdjust="spacingAndGlyphs" >$GOLD 1295.60</text>
<text x="143.4" y="49.8" font-family='"Liberation Sans", sans-serif' font-size="18.7" font-weight="normal" fill="#000" text-anchor="start" textLength="126.8" lengthAdjust="spacingAndGlyphs" stroke="#000" stroke-width="0.25">Platinum / Gold</text>
<text x="171.4" y="176.3" font-family='"Liberation Sans", sans-serif' font-size="18.7" font-weight="normal" fill="#000" text-anchor="start" textLength="71.4" lengthAdjust="spacingAndGlyphs" stroke="#000" stroke-width="0.25">Platinum</text>
<text x="144.4" y="450.4" font-family='"Liberation Sans", sans-serif' font-size="18.7" font-weight="normal" fill="#000" text-anchor="start" textLength="40.4" lengthAdjust="spacingAndGlyphs" stroke="#000" stroke-width="0.25">Gold</text>
</svg></body></html>
